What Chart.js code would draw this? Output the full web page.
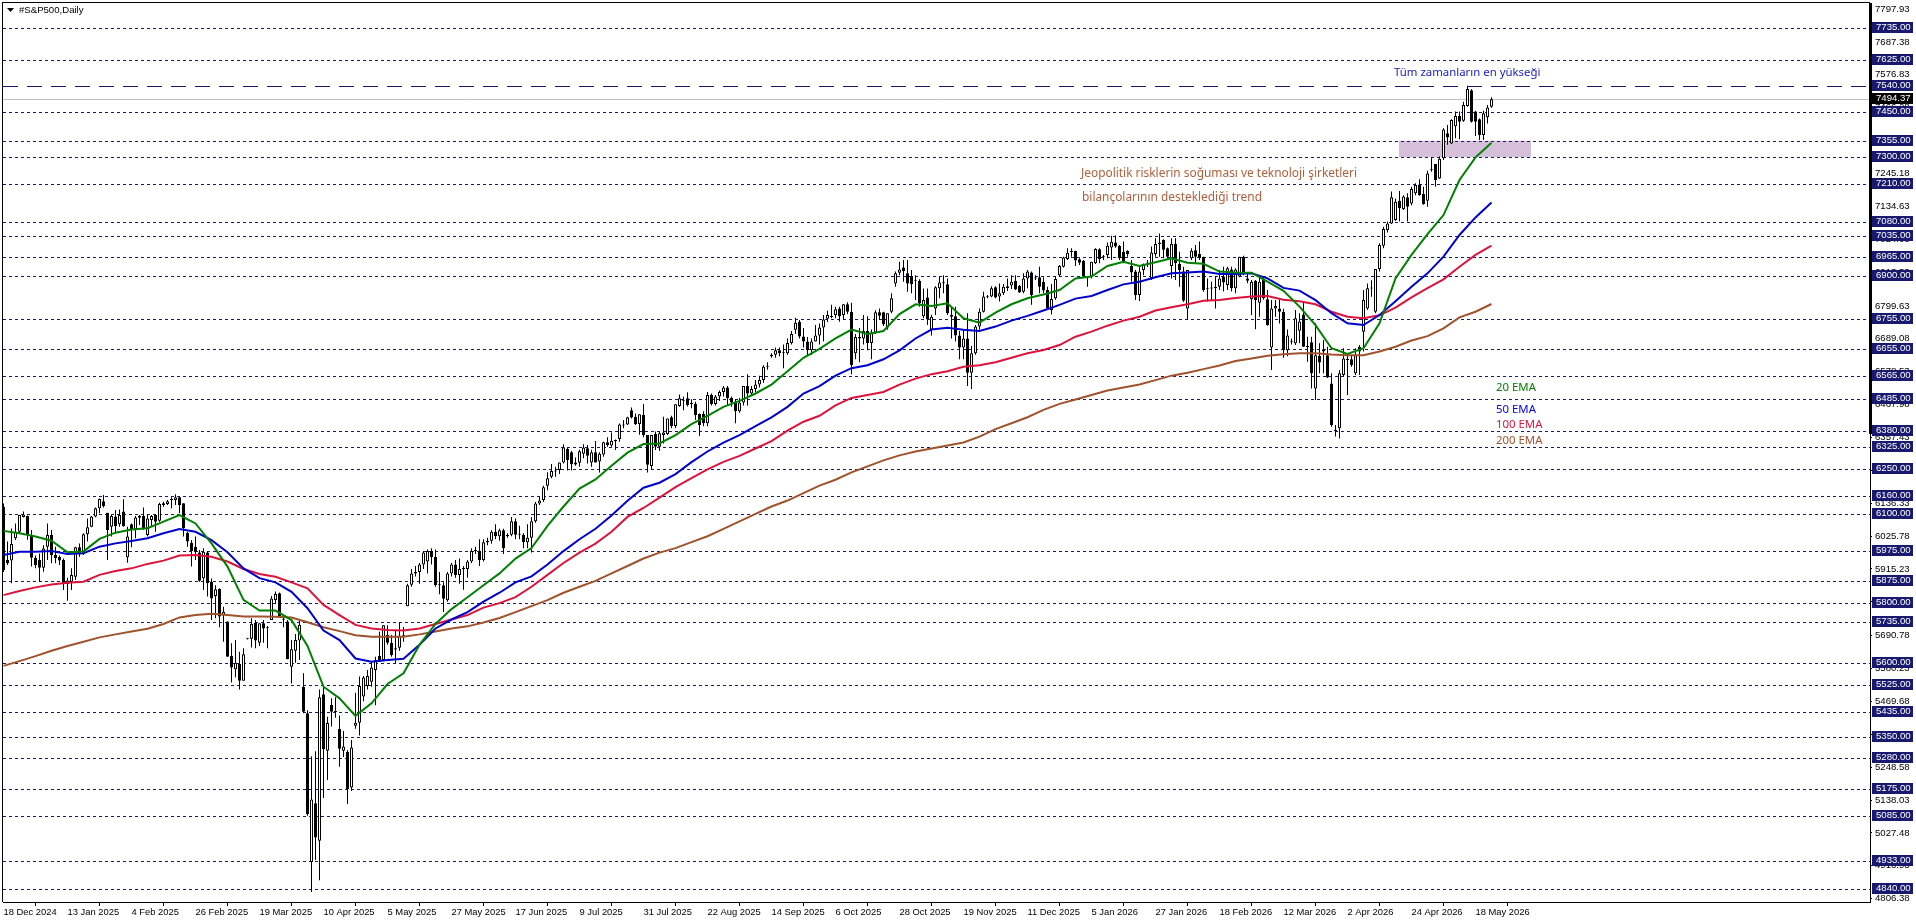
<!DOCTYPE html>
<html>
<head>
<meta charset="utf-8">
<title>#S&amp;P500,Daily</title>
<script src="https://cdn.jsdelivr.net/npm/chart.js@4/dist/chart.umd.min.js"></script>
<style>
  html, body { margin: 0; padding: 0; background: #fff; overflow: hidden; }
  canvas { display: block; }
</style>
</head>
<body>
<canvas id="myChart" width="1916" height="923"></canvas>
<script>
const dateLabels = ["18 Dec 2024","13 Jan 2025","4 Feb 2025","26 Feb 2025","19 Mar 2025","10 Apr 2025","5 May 2025","27 May 2025","17 Jun 2025","9 Jul 2025","31 Jul 2025","22 Aug 2025","14 Sep 2025","6 Oct 2025","28 Oct 2025","19 Nov 2025","11 Dec 2025","5 Jan 2026","27 Jan 2026","18 Feb 2026","12 Mar 2026","2 Apr 2026","24 Apr 2026","18 May 2026"];
const priceTicks = [7797.93,7687.38,7576.83,7466.28,7355.73,7245.18,7134.63,7024.08,6913.53,6799.63,6689.08,6578.53,6467.98,6357.43,6246.88,6136.33,6025.78,5915.23,5804.68,5690.78,5580.23,5469.68,5359.13,5248.58,5138.03,5027.48,4916.93,4806.38];
const levels = [7735,7625,7450,7355,7300,7210,7080,7035,6965,6900,6755,6655,6565,6485,6380,6325,6250,6160,6100,5975,5875,5800,5735,5600,5525,5435,5350,5280,5175,5085,4933,4840];
const athLevel = 7540;
const lastPrice = 7494.37;

const opens = [
  6124,5945,5943,6018,6040,6090,6093,6029,5953,5945,
  5919,5990,6029,5962,5956,5945,5864,5872,5889,5988,
  5967,6032,6057,6091,6119,6143,6104,6057,6091,6065,
  6108,5954,6065,6048,6087,6093,6029,6080,6096,6077,
  6130,6133,6147,6147,6156,6136,6037,6003,5990,5970,
  5884,5970,5872,5824,5848,5760,5738,5622,5578,5595,
  5539,5680,5680,5734,5667,5732,5718,5743,5811,5833,
  5746,5738,5586,5640,5674,5519,5430,4930,5127,5001,
  5494,5304,5458,5436,5377,5304,5300,5180,5388,5398,
  5486,5521,5536,5575,5622,5609,5693,5667,5644,5650,
  5692,5790,5862,5900,5905,5930,5940,5975,5955,5860,
  5860,5810,5900,5930,5895,5915,5915,5940,5975,5975,
  5945,6005,6010,6040,6025,6045,6025,6030,6075,6030,
  6030,6005,6020,6075,6135,6147,6195,6225,6245,6248,
  6273,6318,6307,6266,6272,6302,6321,6273,6307,6276,
  6300,6341,6330,6347,6352,6397,6401,6449,6427,6402,
  6433,6365,6261,6369,6326,6365,6369,6425,6396,6463,
  6481,6489,6470,6470,6436,6436,6405,6500,6470,6495,
  6510,6525,6490,6475,6445,6475,6530,6505,6520,6535,
  6550,6595,6630,6635,6650,6640,6640,6675,6719,6746,
  6697,6680,6650,6680,6700,6727,6756,6764,6769,6791,
  6769,6805,6780,6640,6695,6690,6715,6675,6710,6778,
  6778,6727,6780,6875,6911,6929,6909,6900,6885,6884,
  6765,6828,6719,6791,6859,6877,6872,6769,6765,6700,
  6660,6690,6575,6640,6730,6780,6829,6831,6862,6831,
  6842,6866,6868,6884,6867,6847,6892,6912,6893,6896,
  6881,6853,6786,6825,6903,6931,6957,6981,6984,6956,
  6951,6898,6898,6943,6990,6965,6971,6996,7013,7001,
  6982,6985,6934,6915,6836,6920,6941,6892,6974,7013,
  7021,6993,6934,7008,6941,6915,6791,6960,6987,6974,
  6965,6858,6859,6861,6864,6898,6870,6922,6859,6898,
  6965,6892,6822,6884,6810,6887,6822,6660,6791,6791,
  6780,6650,6680,6674,6716,6771,6662,6677,6522,6631,
  6654,6634,6539,6380,6388,6567,6621,6620,6573,6662,
  6713,6791,6859,6780,6924,7002,7055,7077,7088,7153,
  7125,7165,7144,7178,7208,7176,7153,7257,7277,7228,
  7296,7380,7346,7404,7438,7422,7472,7525,7453,7427,
  7374,7434,7469];
const highs = [
  6135,6007,6051,6068,6096,6108,6095,6046,5960,5967,
  5995,6068,6046,5990,5960,5950,5885,5917,5990,6001,
  6035,6085,6093,6122,6152,6164,6104,6096,6113,6115,
  6149,6057,6068,6093,6096,6122,6096,6096,6100,6138,
  6141,6147,6156,6166,6158,6136,6040,6012,6024,5979,
  5985,5975,5883,5860,5850,5788,5738,5665,5676,5637,
  5648,5682,5749,5743,5732,5743,5723,5824,5839,5836,
  5760,5743,5676,5696,5743,5564,5440,5285,5302,5510,
  5520,5418,5480,5484,5422,5370,5305,5340,5499,5553,
  5555,5575,5603,5620,5704,5726,5726,5693,5710,5735,
  5720,5865,5915,5925,5935,5975,5980,5985,5980,5905,
  5870,5905,5935,5945,5950,5925,5945,5985,5990,6015,
  6015,6020,6045,6065,6050,6050,6035,6090,6085,6060,
  6035,6065,6090,6140,6158,6195,6240,6268,6259,6273,
  6334,6322,6312,6290,6316,6334,6332,6316,6345,6307,
  6343,6358,6374,6350,6404,6416,6427,6458,6438,6435,
  6470,6365,6365,6377,6377,6427,6421,6430,6469,6502,
  6494,6509,6486,6477,6438,6445,6510,6505,6500,6515,
  6530,6530,6495,6485,6490,6530,6570,6530,6550,6565,
  6600,6610,6640,6660,6660,6670,6690,6715,6760,6752,
  6725,6695,6690,6735,6740,6769,6783,6803,6797,6797,
  6805,6812,6810,6705,6725,6769,6765,6720,6785,6791,
  6780,6775,6842,6915,6948,6954,6954,6920,6903,6889,
  6858,6858,6770,6866,6898,6903,6892,6797,6797,6715,
  6720,6775,6665,6735,6791,6847,6836,6866,6866,6875,
  6873,6892,6903,6903,6870,6909,6920,6915,6903,6931,
  6896,6864,6873,6898,6937,6965,6993,6993,6985,6960,
  6954,6899,6948,6993,6993,6971,7013,7035,7036,7004,
  7016,6987,6954,6920,6935,6942,6954,6999,7027,7043,
  7024,6996,7027,7027,6982,6931,6920,6993,7004,7016,
  6965,6892,6881,6898,6920,6931,6931,6931,6926,6965,
  6968,6909,6887,6887,6898,6893,6853,6819,6819,6825,
  6790,6720,6690,6786,6775,6814,6696,6696,6741,6674,
  6685,6662,6573,6399,6584,6657,6640,6634,6657,6668,
  6853,6875,6886,6924,7010,7066,7083,7184,7161,7186,
  7172,7178,7200,7212,7225,7200,7254,7299,7277,7302,
  7397,7408,7427,7453,7453,7486,7540,7528,7456,7430,
  7456,7475,7501];
const lows = [
  5905,5928,5867,6012,6035,6088,6013,5923,5917,5872,
  5906,5945,5934,5934,5928,5844,5808,5844,5878,5956,
  5962,6007,6055,6089,6102,6122,5945,6024,6035,6057,
  6057,5936,5988,6018,6063,6046,6024,6057,6040,6074,
  6124,6130,6119,6130,6102,6024,5990,5923,5945,5872,
  5844,5822,5743,5749,5719,5670,5620,5533,5551,5510,
  5539,5678,5651,5648,5656,5667,5648,5743,5799,5752,
  5719,5611,5530,5600,5609,5430,5085,4829,4936,4868,
  5145,5205,5385,5415,5250,5283,5125,5168,5378,5355,
  5470,5510,5519,5457,5603,5605,5660,5620,5598,5640,
  5670,5790,5855,5890,5865,5915,5900,5930,5855,5830,
  5770,5805,5890,5885,5865,5845,5885,5935,5965,5925,
  5940,5995,6000,6015,6010,5965,6020,6025,6015,6015,
  5985,5985,5970,6070,6130,6140,6180,6220,6225,6234,
  6270,6246,6246,6262,6259,6287,6270,6259,6273,6239,
  6292,6326,6326,6315,6343,6388,6399,6421,6399,6366,
  6358,6239,6248,6315,6312,6337,6365,6388,6388,6460,
  6449,6461,6455,6416,6362,6395,6395,6465,6465,6480,
  6495,6465,6460,6405,6440,6465,6465,6500,6510,6525,
  6540,6585,6625,6625,6630,6590,6635,6670,6705,6690,
  6660,6630,6635,6680,6670,6680,6745,6758,6758,6746,
  6755,6772,6570,6620,6610,6670,6650,6620,6705,6752,
  6732,6719,6775,6864,6903,6881,6847,6842,6819,6797,
  6758,6735,6700,6769,6825,6842,6769,6690,6680,6620,
  6620,6530,6520,6635,6719,6777,6825,6829,6825,6814,
  6836,6850,6856,6853,6844,6842,6859,6803,6887,6842,
  6842,6786,6771,6820,6898,6929,6954,6965,6934,6937,
  6896,6864,6892,6940,6943,6954,6960,6954,6995,6954,
  6943,6965,6881,6819,6816,6903,6930,6887,6965,6965,
  6960,6956,6892,6887,6864,6813,6752,6954,6943,6954,
  6847,6814,6819,6791,6853,6848,6853,6848,6842,6896,
  6903,6876,6769,6721,6763,6820,6733,6584,6763,6740,
  6625,6630,6670,6668,6674,6662,6612,6522,6483,6573,
  6573,6557,6393,6360,6354,6561,6500,6595,6567,6567,
  6646,6786,6830,6775,6915,6993,7046,7075,7085,7083,
  7122,7083,7138,7172,7170,7140,7133,7251,7200,7226,
  7290,7341,7344,7363,7360,7419,7469,7416,7371,7357,
  7357,7413,7466];
const closes = [
  5911,5934,5999,6040,6096,6098,6029,5953,5928,5919,
  5984,6029,5962,5951,5943,5864,5876,5895,5988,5967,
  6032,6055,6091,6119,6150,6127,6046,6093,6059,6096,
  6059,6024,6049,6088,6094,6052,6085,6093,6074,6133,
  6136,6143,6148,6156,6130,6052,6007,5975,5971,5875,
  5973,5867,5816,5847,5755,5771,5620,5584,5600,5539,
  5628,5680,5730,5674,5732,5715,5716,5816,5831,5757,
  5744,5611,5645,5676,5727,5435,5090,5140,5012,5484,
  5309,5397,5435,5434,5310,5318,5175,5315,5398,5521,
  5550,5555,5584,5609,5603,5726,5667,5626,5648,5690,
  5690,5860,5900,5905,5930,5970,5975,5955,5860,5860,
  5815,5900,5930,5895,5915,5915,5940,5975,5975,5945,
  6005,6010,6040,6025,6045,5985,6030,6075,6030,6030,
  6005,6020,6075,6135,6145,6190,6220,6244,6243,6273,
  6324,6281,6267,6273,6311,6323,6296,6307,6273,6302,
  6341,6332,6346,6345,6401,6399,6425,6424,6402,6435,
  6365,6265,6365,6326,6371,6374,6421,6396,6469,6489,
  6483,6466,6471,6433,6399,6405,6500,6470,6495,6510,
  6525,6490,6475,6445,6475,6530,6505,6520,6535,6550,
  6595,6595,6635,6650,6640,6640,6675,6705,6743,6697,
  6680,6650,6680,6700,6727,6754,6769,6762,6788,6765,
  6805,6780,6600,6695,6690,6715,6675,6710,6778,6766,
  6738,6775,6825,6909,6922,6917,6875,6872,6884,6808,
  6819,6754,6763,6862,6878,6878,6775,6763,6700,6660,
  6690,6575,6640,6730,6780,6831,6830,6859,6828,6842,
  6864,6860,6881,6855,6845,6892,6915,6836,6892,6864,
  6851,6791,6823,6890,6934,6962,6978,6982,6952,6945,
  6898,6896,6948,6991,6957,6963,7002,7015,6999,6960,
  6943,6974,6912,6836,6915,6940,6941,6979,7008,7008,
  6988,6965,7008,6943,6920,6817,6920,6985,6965,6960,
  6853,6857,6858,6860,6892,6878,6926,6859,6922,6965,
  6909,6884,6881,6819,6881,6825,6735,6791,6799,6780,
  6650,6700,6679,6758,6747,6662,6661,6573,6634,6609,
  6646,6559,6399,6379,6573,6623,6618,6601,6634,6646,
  6819,6859,6858,6924,7004,7058,7077,7165,7150,7128,
  7167,7133,7193,7206,7172,7142,7245,7256,7223,7294,
  7393,7366,7425,7438,7419,7475,7529,7419,7419,7374,
  7447,7467,7494.37];

// EMA values read every 4 bars
const emaStep = 4;
const ema20 = [
  6043,6035,6024,6010,5971,5974,6016,6037,6048,6052,6074,6096,6068,6001,5923,5811,5775,5775,5743,
  5656,5519,5480,5421,5463,5528,5564,
  5660,5730,5780,5820,5860,5900,5950,5985,6060,6125,
  6185,6216,6262,6306,6335,6337,6365,6402,
  6430,6460,6480,6505,6535,6580,6625,6655,6690,6720,6705,6715,
  6772,6805,6799,6808,6758,6743,6777,6805,6825,
  6838,6853,6892,6898,6934,6948,6934,6946,6960,6945,6941,6915,6912,6911,6881,
  6850,6797,6735,6657,6638,6657,6741,6892,6971,7041,7105,7223,7299,7348];
const ema50 = [
  5962,5973,5973,5975,5965,5968,5990,6001,6009,6018,6035,6049,6040,6012,5971,5917,5884,5870,5838,
  5783,5708,5676,5614,5603,5609,5613,
  5660,5715,5745,5770,5805,5835,5870,5890,5930,5975,
  6015,6050,6095,6144,6188,6205,6234,6274,
  6310,6340,6365,6395,6425,6460,6505,6530,6565,6590,6600,6620,
  6650,6690,6720,6726,6719,6715,6730,6750,6766,
  6784,6803,6824,6833,6853,6872,6881,6896,6909,6912,6915,6907,6907,6909,6892,
  6860,6851,6819,6775,6741,6735,6769,6815,6864,6909,6965,7038,7097,7147];
const ema100 = [
  5827,5841,5853,5863,5869,5872,5895,5908,5917,5932,5943,5960,5962,5956,5940,5915,5898,5889,5870,
  5850,5794,5760,5727,5715,5710,5708,
  5715,5730,5745,5760,5785,5800,5820,5855,5895,5935,
  5970,6000,6040,6090,6120,6155,6190,6220,
  6250,6275,6295,6320,6345,6380,6410,6430,6465,6490,6500,6510,
  6535,6555,6570,6580,6595,6600,6610,6625,6640,
  6651,6668,6696,6713,6733,6750,6763,6784,6795,6805,6817,6819,6826,6831,6833,
  6820,6815,6805,6780,6763,6758,6768,6794,6828,6859,6889,6931,6971,7002];
const ema200 = [
  5589,5605,5622,5640,5656,5670,5685,5695,5705,5714,5730,5752,5760,5764,5760,5755,5755,5754,5752,
  5736,5719,5706,5692,5687,5687,5687,
  5695,5705,5715,5722,5735,5750,5770,5790,5810,5835,
  5855,5875,5900,5925,5950,5970,5985,6005,
  6025,6050,6075,6100,6125,6145,6170,6195,6215,6240,6260,6280,
  6297,6310,6320,6330,6340,6360,6385,6405,6425,
  6450,6470,6485,6500,6515,6525,6535,6550,6565,6575,6587,6599,6614,6623,6632,
  6637,6640,6640,6636,6634,6634,6646,6662,6683,6698,6724,6761,6780,6806];

const levelColor = "#191970";
const priceFont = '9.6px "Liberation Sans"';
const noteFont = '11.4px "Noto Sans"';
const commentFont = '11.9px "Noto Sans"';

const bars = opens.map((o, i) => ({ x: i, y: [o, closes[i]] }));
const wicks = highs.map((h, i) => ({ x: i, y: [lows[i], h] }));
const emaPoints = (values) => values.map((v, k) => ({ x: k * emaStep, y: v }));

const emaLine = (label, values, color) => ({
  type: "line",
  label,
  data: emaPoints(values),
  borderColor: color,
  borderWidth: 2,
  pointRadius: 0,
  tension: 0,
  order: 1,
});

const levelsPlugin = {
  id: "levels",
  beforeDatasetsDraw(chart) {
    const { ctx, chartArea: a, scales: { y } } = chart;
    ctx.save();
    // support zone
    ctx.fillStyle = "#d6bfd8";
    ctx.fillRect(1399, y.getPixelForValue(7355), 132, y.getPixelForValue(7300) - y.getPixelForValue(7355));
    ctx.lineWidth = 1;
    ctx.strokeStyle = levelColor;
    ctx.setLineDash([3, 3]);
    levels.forEach((v) => {
      const py = Math.round(y.getPixelForValue(v)) + 0.5;
      ctx.beginPath();
      ctx.moveTo(a.left, py);
      ctx.lineTo(a.right, py);
      ctx.stroke();
    });
    ctx.setLineDash([15, 9]);
    const ay = Math.round(y.getPixelForValue(athLevel)) + 0.5;
    ctx.beginPath();
    ctx.moveTo(a.left, ay);
    ctx.lineTo(a.right, ay);
    ctx.stroke();
    ctx.setLineDash([]);
    ctx.strokeStyle = "#c0c0c0";
    const ly = Math.round(y.getPixelForValue(lastPrice)) + 0.5;
    ctx.beginPath();
    ctx.moveTo(a.left, ly);
    ctx.lineTo(a.right, ly);
    ctx.stroke();
    ctx.restore();
  },
  afterDraw(chart) {
    const { ctx, chartArea: a, scales: { y } } = chart;
    ctx.save();
    // frame
    ctx.fillStyle = "#000";
    ctx.fillRect(2, 2, a.right - 2, 1);
    ctx.fillRect(2, 2, 1, a.bottom - 2);
    ctx.fillRect(a.right - 1, 3, 3, 431);

    // price boxes on the right
    ctx.font = priceFont;
    ctx.textBaseline = "middle";
    ctx.textAlign = "left";
    const box = (v, bg) => {
      const py = y.getPixelForValue(v);
      ctx.fillStyle = bg;
      ctx.fillRect(1872, Math.round(py) - 6, 41, 11);
      ctx.fillStyle = "#fff";
      ctx.fillText(v.toFixed(2), 1876, Math.round(py) - 0.5);
    };
    levels.concat(athLevel).forEach((v) => box(v, levelColor));
    box(lastPrice, "#000");

    // title
    ctx.fillStyle = "#000";
    ctx.beginPath();
    ctx.moveTo(7, 8);
    ctx.lineTo(14, 8);
    ctx.lineTo(10.5, 12);
    ctx.fill();
    ctx.font = '9.6px "Liberation Sans"';
    ctx.fillText("#S&P500,Daily", 19, 10.5);

    // notes
    ctx.font = noteFont;
    ctx.fillStyle = "#2020c8";
    ctx.fillText("Tüm zamanların en yükseği", 1394, 72.5);
    ctx.fillStyle = "#008000";
    ctx.fillText("20 EMA", 1496, 387.5);
    ctx.fillStyle = "#0000e0";
    ctx.fillText("50 EMA", 1496, 410);
    ctx.fillStyle = "#dc143c";
    ctx.fillText("100 EMA", 1496, 425);
    ctx.fillStyle = "#a0522d";
    ctx.fillText("200 EMA", 1496, 441);
    ctx.font = commentFont;
    ctx.fillStyle = "#b0603c";
    ctx.fillText("Jeopolitik risklerin soğuması ve teknoloji şirketleri", 1081, 174);
    ctx.fillText("bilançolarının desteklediği trend", 1082, 197.5);
    ctx.restore();
  },
};

new Chart(document.getElementById("myChart").getContext("2d"), {
  type: "bar",
  data: {
    datasets: [
      emaLine("20 EMA", ema20, "#008000"),
      emaLine("50 EMA", ema50, "#0000cd"),
      emaLine("100 EMA", ema100, "#dc143c"),
      emaLine("200 EMA", ema200, "#a0522d"),
      {
        label: "body",
        data: bars,
        grouped: false,
        barThickness: 3,
        minBarLength: 1,
        borderWidth: 1,
        borderSkipped: false,
        inflateAmount: 0,
        borderColor: "#000",
        backgroundColor: opens.map((o, i) => (closes[i] >= o ? "#fff" : "#000")),
        order: 2,
      },
      {
        label: "wick",
        data: wicks,
        grouped: false,
        barThickness: 1,
        inflateAmount: 0,
        borderWidth: 0,
        backgroundColor: "#000",
        order: 3,
      },
    ],
  },
  options: {
    responsive: false,
    animation: false,
    devicePixelRatio: 1,
    layout: { padding: { left: 3, top: 3, right: 0, bottom: 0 } },
    plugins: { legend: false, tooltip: false },
    scales: {
      x: {
        type: "linear",
        offset: false,
        min: -0.125,
        max: 466.625,
        afterBuildTicks(axis) {
          axis.ticks = dateLabels.map((_, k) => ({ value: k * 16 }));
        },
        afterFit(axis) {
          axis.height = 21;
          axis.paddingLeft = 0;
          axis.paddingRight = 0;
        },
        ticks: {
          autoSkip: false,
          maxRotation: 0,
          align: "start",
          padding: 1,
          color: "#000",
          font: { family: "Liberation Sans", size: 9.4 },
          callback: (v) => dateLabels[v / 16],
        },
        grid: { drawOnChartArea: false, drawTicks: true, tickLength: 4, color: "#000" },
        border: { display: true, color: "#000" },
      },
      y: {
        position: "right",
        min: 4795.1,
        max: 7818.05,
        afterBuildTicks(axis) {
          axis.ticks = priceTicks.map((v) => ({ value: v }));
        },
        afterFit(axis) {
          axis.width = 46;
          axis.paddingTop = 0;
          axis.paddingBottom = 0;
        },
        ticks: {
          autoSkip: false,
          padding: 3,
          color: "#000",
          font: { family: "Liberation Sans", size: 9.6 },
          callback: (v) => v.toFixed(2),
        },
        grid: { drawOnChartArea: false, drawTicks: true, tickLength: 2, color: "#000" },
        border: { display: true, color: "#000" },
      },
    },
  },
  plugins: [levelsPlugin],
});
</script>
</body>
</html>
